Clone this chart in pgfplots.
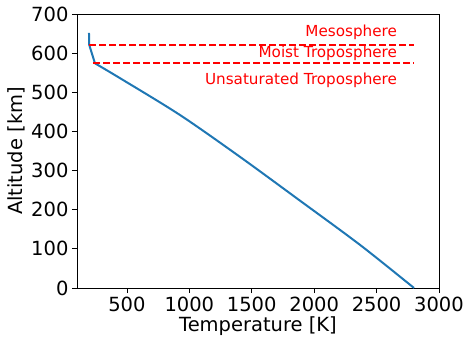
\documentclass[border=0pt]{standalone}
\usepackage{fontspec}
\setmainfont{DejaVu Sans}
\usepackage{pgfplots}
\pgfplotsset{compat=1.18}
\definecolor{mplblue}{HTML}{1F77B4}
\begin{document}
\begin{tikzpicture}
\begin{axis}[
  scale only axis,
  width=362pt, height=274pt,
  xmin=100, xmax=3000, ymin=0, ymax=700,
  xtick={500,1000,...,3000}, ytick={0,100,...,700},
  tick align=outside, major tick length=5pt,
  xtick pos=bottom, ytick pos=left,
  tick style={black, line width=0.8pt},
  axis line style={line width=0.8pt},
  /pgf/number format/assume math mode=true,
  /pgf/number format/1000 sep={},
  ticklabel style={font=\fontsize{19.5}{19.5}\selectfont},
  label style={font=\fontsize{19.5}{19.5}\selectfont},
  xlabel={Temperature [K]}, ylabel={Altitude [km]},
  xlabel style={yshift=1pt},
  ylabel style={yshift=-1pt},
  clip=false,
]
\addplot[mplblue, line width=2pt, smooth, tension=0.5] coordinates {
(2800,0) (2368,110) (1887,223) (1406,335) (925,442) (445,536) (244,574)
};
\addplot[mplblue, line width=2pt, line join=round] coordinates {
(244,574) (198,621) (196,652)
};
\addplot[red, line width=1.8pt, dash pattern=on 7pt off 3pt] coordinates {(198,621) (2800,621)};
\addplot[red, line width=1.8pt, dash pattern=on 7pt off 3pt] coordinates {(231,574) (2800,574)};
\node[anchor=east, red, font=\fontsize{15.2}{15.2}\selectfont, inner sep=0pt] at (axis cs:2665,653) {Mesosphere};
\node[anchor=east, red, font=\fontsize{15.2}{15.2}\selectfont, inner sep=0pt] at (axis cs:2665,600) {Moist Troposphere};
\node[anchor=east, red, font=\fontsize{15.2}{15.2}\selectfont, inner sep=0pt] at (axis cs:2665,530) {Unsaturated Troposphere};
\end{axis}
\pgfresetboundingbox
\path[use as bounding box] (-77pt,-50pt) rectangle (390pt,288pt);
\end{tikzpicture}
\end{document}
